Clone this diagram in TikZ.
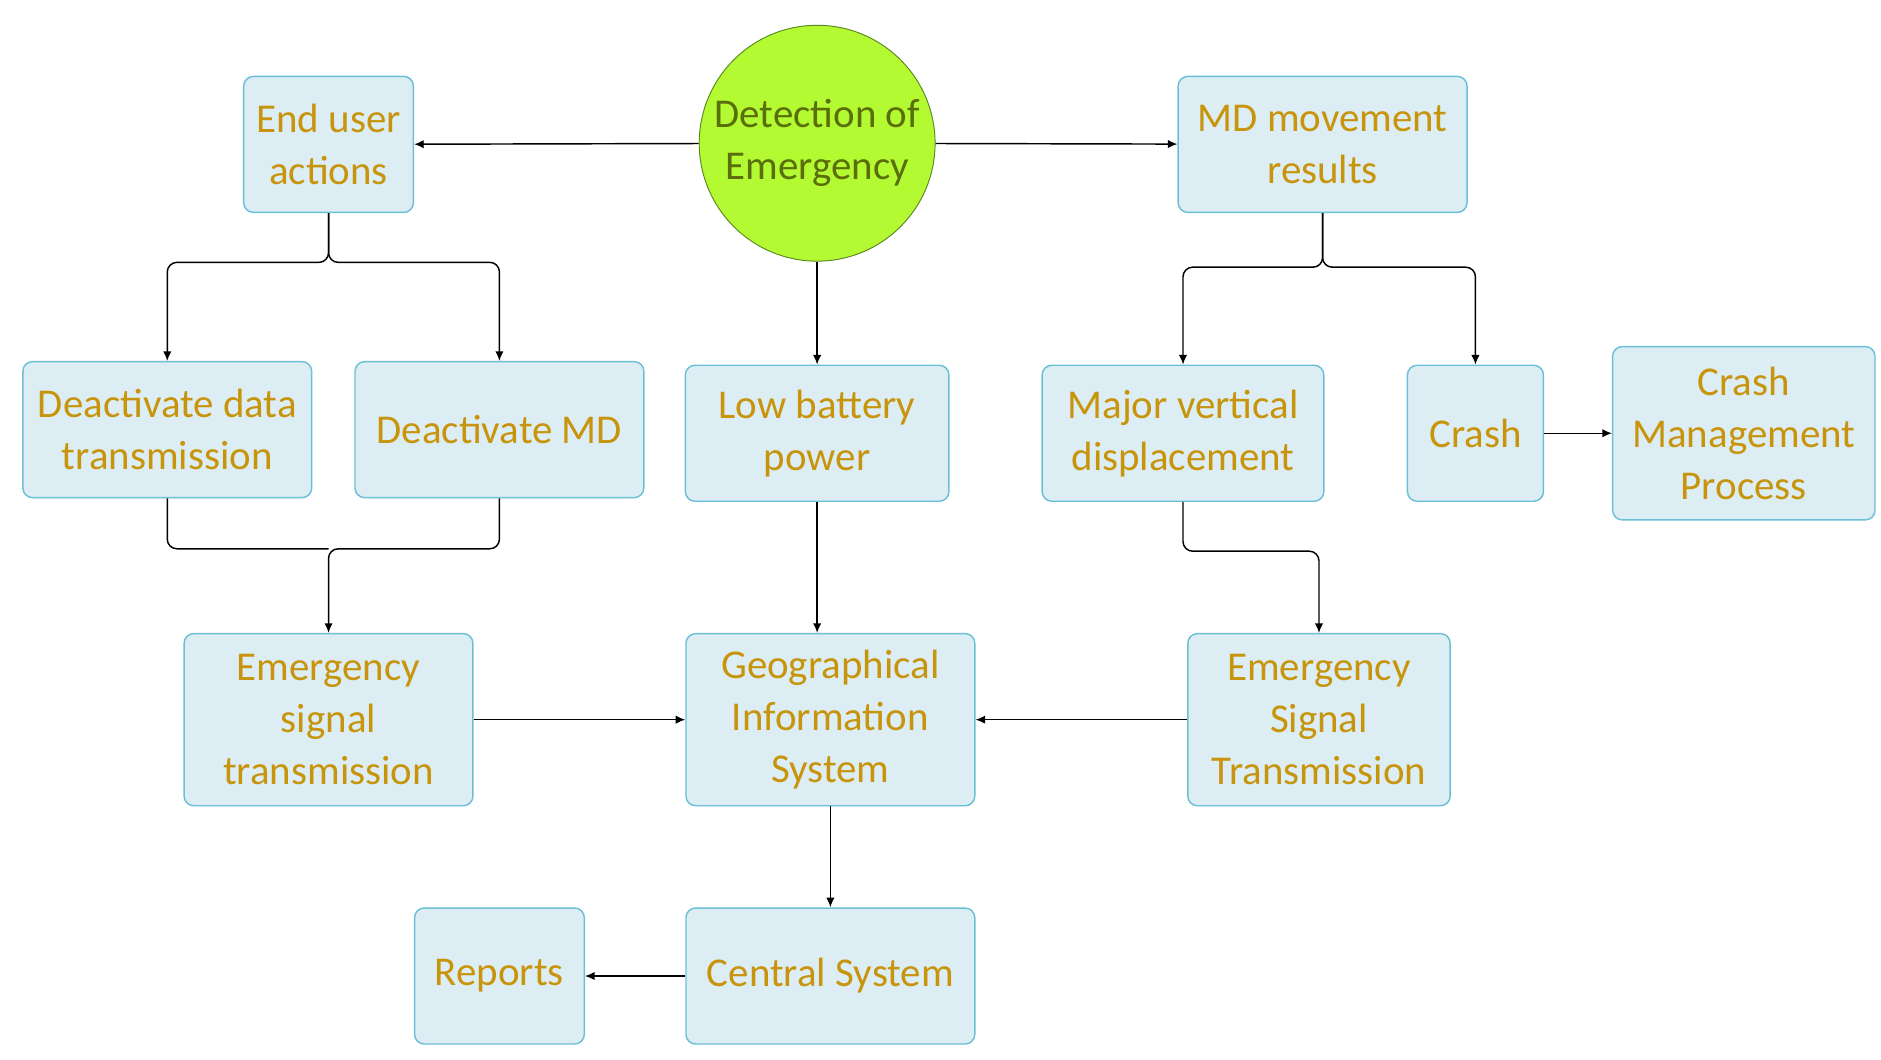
\documentclass[tikz,border=0pt]{standalone}
\usepackage{fontspec}
\setmainfont{Carlito}
\usetikzlibrary{arrows.meta}
\definecolor{boxfill}{HTML}{DCEEF4}
\definecolor{boxline}{HTML}{6BBFD6}
\definecolor{txt}{HTML}{C8940C}
\definecolor{circfill}{HTML}{B4FA32}
\definecolor{circline}{HTML}{5A8A20}
\begin{document}
\begin{tikzpicture}[x=0.5pt,y=-0.5pt,
  box/.style={draw=boxline,fill=boxfill,rounded corners=4pt,line width=0.6pt,align=center,text=txt,font=\fontsize{17}{21.5}\selectfont,inner sep=0pt},
  arr/.style={-{Latex[length=4pt,width=3.5pt]},line width=0.6pt,rounded corners=4pt},
  ln/.style={line width=0.6pt,rounded corners=4pt}]
\useasboundingbox (0,0) rectangle (1563,880);
\node[circle,draw=circline,fill=circfill,minimum size=98pt,inner sep=0pt,align=center,text={rgb,255:red,90;green,110;blue,10},font=\fontsize{17}{21.5}\selectfont] (det) at (679,119) {Detection of\\Emergency};
\node[box,minimum width=70.5pt,minimum height=56.5pt] (eu) at (273,120) {End user\\actions};
\node[box,minimum width=120pt,minimum height=56.5pt] (md) at (1099,120) {MD movement\\results};
\node[box,minimum width=120pt,minimum height=56.5pt] (dd) at (139,357) {Deactivate data\\transmission};
\node[box,minimum width=120pt,minimum height=56.5pt] (dm) at (415,357) {Deactivate MD};
\node[box,minimum width=109.5pt,minimum height=56.5pt] (lb) at (679,360) {Low battery\\power};
\node[box,minimum width=117pt,minimum height=56.5pt] (mv) at (983,360) {Major vertical\\displacement};
\node[box,minimum width=56.5pt,minimum height=56.5pt] (cr) at (1226,360) {Crash};
\node[box,minimum width=109pt,minimum height=72pt] (cm) at (1449,360) {Crash\\Management\\Process};
\node[box,minimum width=120pt,minimum height=71.5pt] (esl) at (273,598) {Emergency\\signal\\transmission};
\node[box,minimum width=120pt,minimum height=71.5pt] (gis) at (690,598) {Geographical\\Information\\System};
\node[box,minimum width=109pt,minimum height=71.5pt] (esr) at (1096,598) {Emergency\\Signal\\Transmission};
\node[box,minimum width=70.5pt,minimum height=56.5pt] (rep) at (415,811) {Reports};
\node[box,minimum width=120pt,minimum height=56.5pt] (cs) at (690,811) {Central System};
\draw[arr] (det) -- (eu);
\draw[arr] (det) -- (md);
\draw[arr] (det) -- (lb);
\draw[arr] (eu.south) |- (139,218) -- (dd.north);
\draw[arr] (eu.south) |- (415,218) -- (dm.north);
\draw[ln] (dd.south) |- (273,456);
\draw[arr] (dm.south) |- (273,456) -- (esl.north);
\draw[arr] (md.south) |- (983,222) -- (mv.north);
\draw[arr] (md.south) |- (1226,222) -- (cr.north);
\draw[arr] (cr) -- (cm);
\draw[arr] (mv.south) |- (1096,458) -- (esr.north);
\draw[arr] (lb.south) -- (lb.south |- gis.north);
\draw[arr] (esl) -- (gis);
\draw[arr] (esr) -- (gis);
\draw[arr] (gis) -- (cs);
\draw[arr] (cs) -- (rep);
\end{tikzpicture}
\end{document}
